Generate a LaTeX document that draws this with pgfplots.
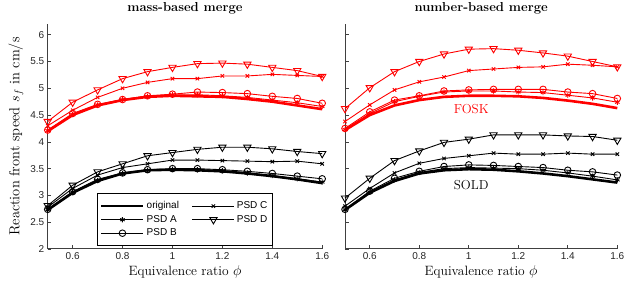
\documentclass[border=0pt]{standalone}
\usepackage{fontspec}
\usepackage{pgfplots}
\usepackage{pgfplotstable}
\pgfplotsset{compat=1.18}
\newfontfamily\helv{Liberation Sans}
\definecolor{axgray}{gray}{0.25}

\pgfplotstableread{
phi  orig  A     B     C     D
0.5  4.20 4.21 4.22 4.30 4.38
0.6  4.50 4.51 4.53 4.59 4.74
0.7  4.68 4.69 4.70 4.83 4.97
0.8  4.78 4.79 4.79 5.00 5.18
0.9  4.84 4.85 4.86 5.11 5.31
1.0  4.86 4.88 4.89 5.18 5.39
1.1  4.85 4.88 4.93 5.18 5.46
1.2  4.84 4.86 4.92 5.23 5.47
1.3  4.80 4.83 4.90 5.23 5.45
1.4  4.75 4.78 4.85 5.26 5.39
1.5  4.68 4.73 4.81 5.24 5.33
1.6  4.61 4.66 4.72 5.22 5.22
}\massfosk
\pgfplotstableread{
phi  orig  A     B     C     D
0.5 2.73 2.73 2.74 2.78 2.81
0.6 3.05 3.06 3.07 3.13 3.19
0.7 3.27 3.28 3.30 3.38 3.44
0.8 3.41 3.41 3.42 3.52 3.59
0.9 3.47 3.47 3.48 3.59 3.74
1.0 3.48 3.49 3.50 3.66 3.80
1.1 3.47 3.48 3.50 3.66 3.86
1.2 3.45 3.46 3.48 3.65 3.90
1.3 3.41 3.42 3.45 3.64 3.90
1.4 3.36 3.37 3.41 3.63 3.87
1.5 3.30 3.31 3.36 3.64 3.82
1.6 3.23 3.25 3.31 3.59 3.78
}\masssold
\pgfplotstableread{
phi  orig  A     B     C     D
0.5 4.22 4.23 4.25 4.38 4.62
0.6 4.50 4.53 4.56 4.69 5.01
0.7 4.68 4.75 4.78 4.97 5.31
0.8 4.78 4.85 4.86 5.12 5.50
0.9 4.84 4.93 4.95 5.21 5.64
1.0 4.86 4.95 4.97 5.33 5.73
1.1 4.86 4.95 4.98 5.36 5.74
1.2 4.85 4.93 4.98 5.39 5.71
1.3 4.82 4.92 4.98 5.40 5.66
1.4 4.77 4.87 4.93 5.45 5.60
1.5 4.71 4.82 4.90 5.43 5.50
1.6 4.63 4.74 4.81 5.40 5.40
}\numfosk
\pgfplotstableread{
phi  orig  A     B     C     D
0.5 2.73 2.73 2.74 2.80 2.95
0.6 3.05 3.06 3.08 3.13 3.32
0.7 3.27 3.29 3.32 3.42 3.65
0.8 3.41 3.43 3.45 3.60 3.83
0.9 3.47 3.50 3.54 3.69 3.99
1.0 3.49 3.52 3.57 3.74 4.05
1.1 3.48 3.51 3.56 3.79 4.13
1.2 3.45 3.50 3.54 3.77 4.13
1.3 3.41 3.47 3.52 3.77 4.13
1.4 3.36 3.42 3.47 3.79 4.11
1.5 3.30 3.36 3.44 3.77 4.10
1.6 3.24 3.29 3.38 3.77 4.03
}\numsold

\pgfplotsset{
  panel/.style={
    scale only axis, height=225pt,
    xmin=0.5, xmax=1.6, ymin=2, ymax=6.2,
    axis lines=left, axis line style={-, draw=axgray, line width=1pt},
    tick align=inside, major tick length=3.5pt,
    tick style={draw=axgray, line width=0.7pt},
    xtick={0.6,0.8,1,1.2,1.4,1.6}, ytick={2,2.5,...,6},
    /pgf/number format/assume math mode=true,
    tick label style={font=\helv\fontsize{10}{12}\selectfont, text=black!85},
    clip=false,
    title style={font=\bfseries\fontsize{13}{15}\selectfont, yshift=0pt},
    xlabel style={font=\fontsize{13.5}{16}\selectfont, yshift=1pt},
    ylabel style={font=\fontsize{14.5}{17}\selectfont},
    xlabel={Equivalence ratio $\phi$},
  },
  orig/.style={line width=2.6pt, mark=none},
  psdA/.style={line width=0.9pt, mark=asterisk, mark size=2.6pt, mark options={line width=0.9pt}},
  psdB/.style={line width=0.9pt, mark=o, mark size=3.3pt, mark options={line width=0.9pt}},
  psdC/.style={line width=0.9pt, mark=x, mark size=2.4pt, mark options={line width=0.9pt}},
  psdD/.style={line width=0.9pt, mark=triangle, mark size=4.2pt, mark options={rotate=180, line width=0.9pt}},
}

\newcommand{\panelplots}[2]{%
  \addplot[#2, orig, forget plot] table[x=phi, y=orig] {#1};
  \addplot[#2, psdA, forget plot] table[x=phi, y=A] {#1};
  \addplot[#2, psdB, forget plot] table[x=phi, y=B] {#1};
  \addplot[#2, psdC, forget plot] table[x=phi, y=C] {#1};
  \addplot[#2, psdD, forget plot] table[x=phi, y=D] {#1};
}

\begin{document}
\begin{tikzpicture}[x=1pt,y=1pt]
\path[use as bounding box] (0,0) rectangle (631,288);
\begin{axis}[panel, at={(47.7pt,39pt)}, anchor=south west, width=274.5pt,
  title={mass-based merge},
  ylabel={Reaction front speed $s_f$ in cm/s},
  legend columns=2,
  legend style={at={(0.1785,0.2476)}, anchor=north west, draw=black, line width=0.9pt,
    fill=white, font=\helv\fontsize{10}{12}\selectfont, inner xsep=3pt, inner ysep=6pt, row sep=1pt,
    /tikz/every even column/.append style={column sep=11pt}},
  legend cell align=left,
  legend image code/.code={\draw[mark repeat=2, mark phase=2] plot coordinates {(0pt,0pt) (21pt,0pt) (42pt,0pt)};},
]
\addlegendimage{black, orig}
\addlegendentry{original}
\addlegendimage{black, psdC}
\addlegendentry{PSD C}
\addlegendimage{black, psdA}
\addlegendentry{PSD A}
\addlegendimage{black, psdD}
\addlegendentry{PSD D}
\addlegendimage{black, psdB}
\addlegendentry{PSD B}
\panelplots{\massfosk}{red}
\panelplots{\masssold}{black}
\end{axis}
\begin{axis}[panel, at={(345pt,39pt)}, anchor=south west, width=272.3pt,
  title={number-based merge},
  yticklabels={},
]
\panelplots{\numfosk}{red}
\panelplots{\numsold}{black}
\node[red, font=\fontsize{13}{15}\selectfont] at (axis cs:1.01,4.62) {FOSK};
\node[black, font=\fontsize{13}{15}\selectfont] at (axis cs:1.01,3.19) {SOLD};
\end{axis}
\end{tikzpicture}
\end{document}
